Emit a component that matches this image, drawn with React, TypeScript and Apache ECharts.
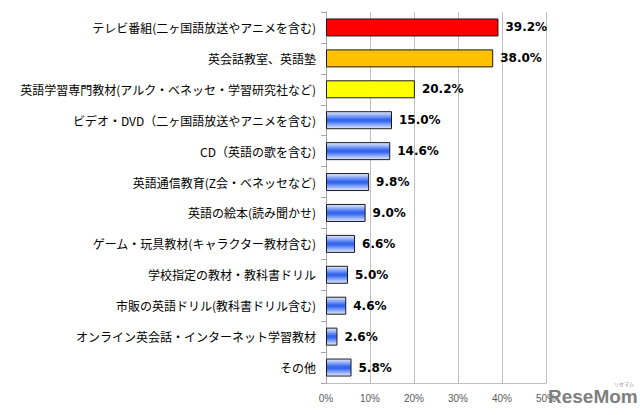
import React, { useEffect, useRef } from "react";
import * as echarts from "echarts";

const categories = [
  "テレビ番組(二ヶ国語放送やアニメを含む)",
  "英会話教室、英語塾",
  "英語学習専門教材(アルク・ベネッセ・学習研究社など)",
  "ビデオ・DVD（二ヶ国語放送やアニメを含む)",
  "CD（英語の歌を含む)",
  "英語通信教育(Z会・ベネッセなど)",
  "英語の絵本(読み聞かせ)",
  "ゲーム・玩具教材(キャラクター教材含む)",
  "学校指定の教材・教科書ドリル",
  "市販の英語ドリル(教科書ドリル含む)",
  "オンライン英会話・インターネット学習教材",
  "その他",
];
const values = [39.2, 38.0, 20.2, 15.0, 14.6, 9.8, 9.0, 6.6, 5.0, 4.6, 2.6, 5.8];
const xTicks = [0, 10, 20, 30, 40, 50];

const blue = new echarts.graphic.LinearGradient(0, 0, 0, 1, [
  { offset: 0, color: "#E8EEFF" },
  { offset: 0.45, color: "#3366EE" },
  { offset: 0.55, color: "#3366EE" },
  { offset: 1, color: "#E8EEFF" },
]);
const barColors = ["#FF0000", "#FFC000", "#FFFF00"];

export default function App() {
  const ref = useRef<HTMLDivElement>(null);
  useEffect(() => {
    document.body.style.margin = "0";
    const chart = echarts.init(ref.current!, null, { renderer: "svg" });
    const font = "'Noto Sans CJK JP', sans-serif";
    chart.setOption({
      animation: false,
      backgroundColor: "#FFFFFF",
      grid: { left: 326, right: 94, top: 12, bottom: 32, containLabel: false },
      xAxis: {
        type: "value",
        min: xTicks[0],
        max: xTicks[xTicks.length - 1],
        interval: 10,
        axisLabel: { formatter: "{value}%", color: "#595959", fontSize: 10, fontFamily: "'Liberation Sans', sans-serif", margin: 10 },
        axisLine: { show: true, lineStyle: { color: "#BFBFBF" } },
        axisTick: { show: false },
        splitLine: { show: true, lineStyle: { color: "#BFBFBF", width: 1 } },
      },
      yAxis: {
        type: "category",
        data: categories,
        inverse: true,
        axisLine: { show: true, lineStyle: { color: "#A6A6A6" } },
        axisTick: { show: true, length: 5, lineStyle: { color: "#A6A6A6" } },
        axisLabel: { color: "#000", fontSize: 12, fontFamily: font, margin: 10 },
      },
      series: [
        {
          type: "bar",
          data: values.map((v, i) => ({
            value: v,
            itemStyle: { color: i < 3 ? barColors[i] : blue },
          })),
          barWidth: 18,
          itemStyle: { borderColor: "#1A1A1A", borderWidth: 1 },
          label: {
            show: true,
            position: "right",
            distance: 7,
            color: "#000",
            fontWeight: "bold",
            fontSize: 12,
            fontFamily: "'DejaVu Sans', sans-serif",
            formatter: (p: any) => Number(p.value).toFixed(1) + "%",
          },
        },
      ],
      graphic: [
        {
          type: "text",
          left: 548,
          top: 387,
          z: 100,
          style: { text: "ReseMom", fill: "#7F7F7F", font: "bold 19px 'Liberation Sans', sans-serif" },
        },
        {
          type: "text",
          left: 614,
          top: 381,
          z: 100,
          style: { text: "リセマム", fill: "#8C8C8C", font: "5px 'Noto Sans CJK JP', sans-serif" },
        },
      ],
    });
    return () => chart.dispose();
  }, []);
  return <div ref={ref} style={{ width: 640, height: 415 }} />;
}
